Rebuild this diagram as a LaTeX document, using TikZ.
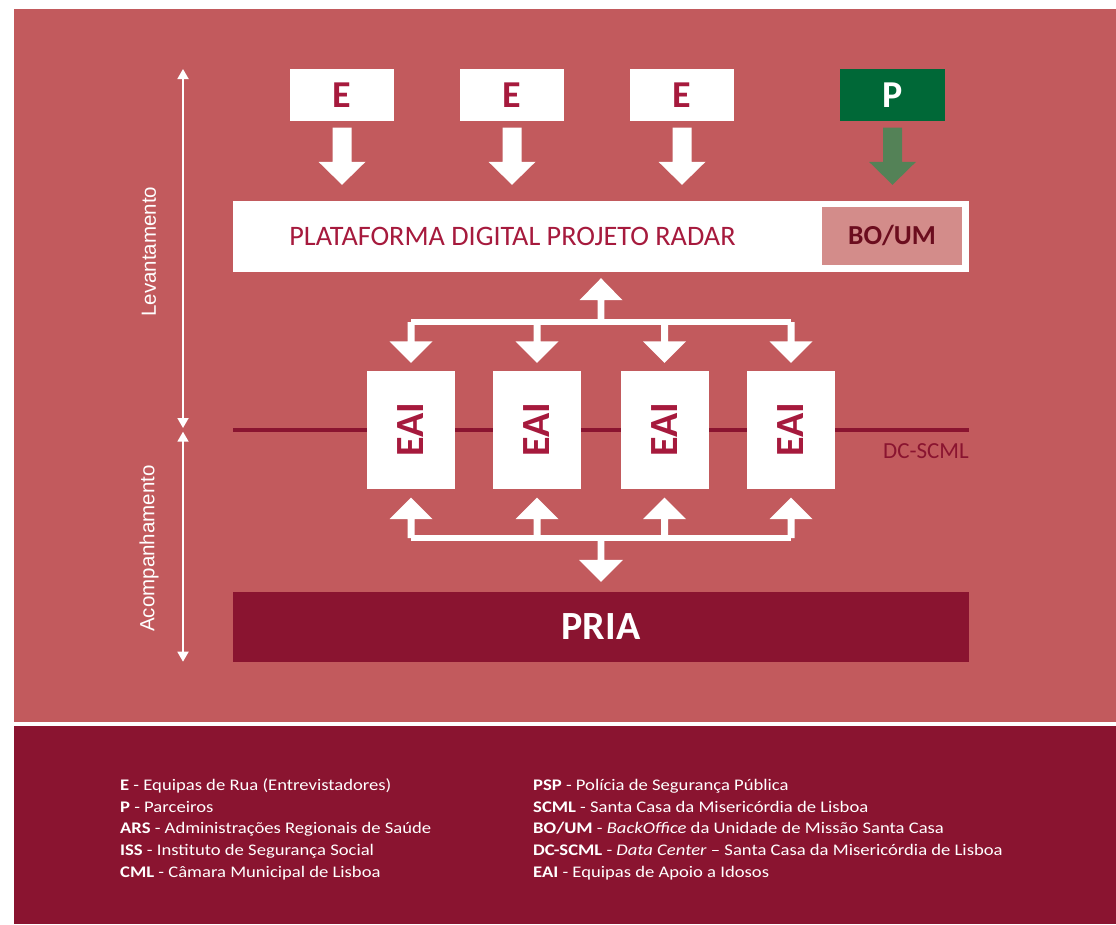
\documentclass[tikz,border=0pt]{standalone}
\usepackage{fontspec}
\setmainfont{Carlito}
\newfontfamily\arialf{Liberation Sans}
\newfontfamily\legendfont[FakeStretch=1.15]{Carlito}
\usetikzlibrary{arrows.meta,calc}
\definecolor{salmon}{HTML}{C25A5D}
\definecolor{wine}{HTML}{8A1430}
\definecolor{crim}{HTML}{A61A3D}
\definecolor{pgreen}{HTML}{006837}
\definecolor{agreen}{HTML}{548257}
\definecolor{bobox}{HTML}{D38C8A}
\definecolor{botext}{HTML}{6B0D1E}
% vertical block arrow: #1 start, #2 tip, #3 half shaft, #4 half head, #5 head length, #6 colour
\newcommand\blockarr[6]{%
  \fill[#6] let \p1=#1, \p2=#2, \n1={sign(\y2-\y1)} in
   ({\x1-#3},\y1) -- ({\x1-#3},{\y2-\n1*#5}) -- ({\x1-#4},{\y2-\n1*#5}) -- (\x1,\y2)
   -- ({\x1+#4},{\y2-\n1*#5}) -- ({\x1+#3},{\y2-\n1*#5}) -- ({\x1+#3},\y1) -- cycle;}
\begin{document}
\begin{tikzpicture}[x=1pt,y=-1pt,
  ebox/.style={fill=white, minimum width=104pt, minimum height=52pt, inner sep=0pt,
    text=crim, font=\bfseries\fontsize{38}{40}\selectfont},
  pbox/.style={ebox, fill=pgreen, text=white, minimum width=105pt},
  eai/.style={fill=white, minimum width=88pt, minimum height=118pt, inner sep=0pt,
    text=crim, font=\bfseries\fontsize{40}{42}\selectfont},
  wide/.style={minimum width=736pt, inner sep=0pt},
  sidelabel/.style={rotate=90, text=white, inner sep=0pt, font=\arialf\fontsize{20.5}{22}\selectfont},
  thinarrow/.style={white, line width=1.8pt, {Triangle[width=11pt,length=10pt]}-{Triangle[width=11pt,length=10pt]}},
  bar/.style={white, line width=6.5pt, line cap=square},
  legend/.style={anchor=base west, inner sep=0pt, text=white, font=\legendfont\fontsize{16.2}{18}\selectfont}
]
\useasboundingbox (0,0) rectangle (1116,924);
\fill[white] (0,0) rectangle (1116,924);
\fill[salmon] (14,9) rectangle (1116,722);
\fill[wine] (14,726) rectangle (1116,924);

% top boxes
\node[ebox] (E1) at (342,95) {E};
\node[ebox] (E2) at (512,95) {E};
\node[ebox] (E3) at (682,95) {E};
\node[pbox] (P) at (892.5,95) {P};

% platform
\node[wide, fill=white, minimum height=70.5pt] (plat) at (601,236.25) {};
\node[inner sep=0pt, text=crim, text height=18pt, text depth=0pt,
  font=\fontsize{28.2}{30}\selectfont] (plattxt) at (512.5,236) {PLATAFORMA DIGITAL PROJETO RADAR};
\node[fill=bobox, minimum width=140pt, minimum height=58pt, inner sep=0pt, text=botext,
  text height=17.5pt, text depth=0pt, font=\bfseries\fontsize{27.5}{30}\selectfont] (bo) at (892,236) {BO/UM};

% DC-SCML line
\draw[wine, line width=4pt] (233,430) -- (969,430);
\node[anchor=east, inner sep=0pt, text=wine, text height=14.8pt, text depth=0pt,
  font=\fontsize{23}{25}\selectfont] (dc) at (969,451) {DC-SCML};

% EAI boxes
\node[eai] (A1) at (411,430) {\rotatebox{90}{EAI}};
\node[eai] (A2) at (537,430) {\rotatebox{90}{EAI}};
\node[eai] (A3) at (664.5,430) {\rotatebox{90}{EAI}};
\node[eai] (A4) at (791,430) {\rotatebox{90}{EAI}};

% PRIA
\node[wide, fill=wine, minimum height=70pt, text=white, font=\bfseries\fontsize{40}{42}\selectfont] (pria) at (601,627) {PRIA};

% E/P arrows into platform
\foreach \nd in {E1,E2,E3}{
  \blockarr{($(\nd.south)+(0,6.5)$)}{($(\nd.south |- plat.north)+(0,-16)$)}{9.5pt}{23.5pt}{23pt}{white}
}
\blockarr{($(P.south)+(0,6.5)$)}{($(P.south |- plat.north)+(0,-16)$)}{9.5pt}{23.5pt}{23pt}{agreen}

% upper distribution tree
\coordinate (tb) at ($(plat.south)+(0,50.5)$);
\draw[bar] (A1 |- tb) -- (A4 |- tb);
\blockarr{(tb)}{($(plat.south)+(0,6.5)$)}{3.3pt}{21.5pt}{22pt}{white}
\foreach \nd in {A1,A2,A3,A4}{
  \blockarr{(\nd |- tb)}{($(\nd.north)+(0,-8)$)}{3.5pt}{21.5pt}{21.5pt}{white}
}

% lower distribution tree
\coordinate (bb) at ($(pria.north)+(0,-53.7)$);
\draw[bar] (A1 |- bb) -- (A4 |- bb);
\foreach \nd in {A1,A2,A3,A4}{
  \blockarr{(\nd |- bb)}{($(\nd.south)+(0,8.3)$)}{3.5pt}{21.5pt}{21.7pt}{white}
}
\blockarr{(bb)}{($(pria.north)+(0,-10)$)}{3.3pt}{22pt}{22pt}{white}

% side arrows
\coordinate (lvtop) at (183,69);
\coordinate (lvbot) at (183,428);
\coordinate (actop) at (183,431.7);
\coordinate (acbot) at (183,661.7);
\draw[thinarrow] (lvtop) -- (lvbot);
\draw[thinarrow] (actop) -- (acbot);
\node[sidelabel] (lev) at (149,251.7) {Levantamento};
\node[sidelabel] (aco) at (149,548.5) {Acompanhamento};

% legend
\node[legend] (L1) at (120,790.7) {\textbf{E} - Equipas de Rua (Entrevistadores)};
\node[legend] (L2) at (120,812.3) {\textbf{P} - Parceiros};
\node[legend] (L3) at (120,833.9) {\textbf{ARS} - Administrações Regionais de Saúde};
\node[legend] (L4) at (120,855.5) {\textbf{ISS} - Instituto de Segurança Social};
\node[legend] (L5) at (120,877.1) {\textbf{CML} - Câmara Municipal de Lisboa};
\node[legend] (R1) at (533,790.7) {\textbf{PSP} - Polícia de Segurança Pública};
\node[legend] (R2) at (533,812.3) {\textbf{SCML} - Santa Casa da Misericórdia de Lisboa};
\node[legend] (R3) at (533,833.9) {\textbf{BO/UM} - \textit{BackOffice} da Unidade de Missão Santa Casa};
\node[legend] (R4) at (533,855.5) {\textbf{DC-SCML} - \textit{Data Center} – Santa Casa da Misericórdia de Lisboa};
\node[legend] (R5) at (533,877.1) {\textbf{EAI} - Equipas de Apoio a Idosos};
\end{tikzpicture}
\end{document}
